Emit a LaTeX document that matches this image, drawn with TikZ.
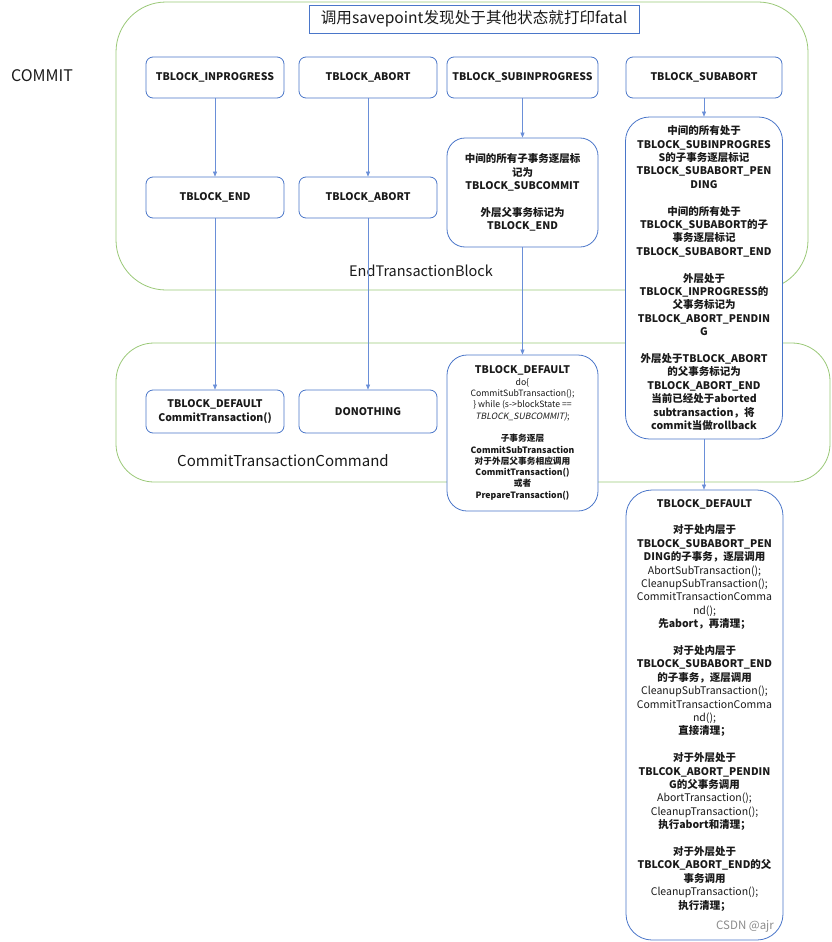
\documentclass[tikz,border=0pt]{standalone}
\usepackage{fontspec}
\setmainfont{Noto Sans CJK SC}
\newfontfamily\itfont{Noto Sans CJK SC}[FakeSlant=0.2]
\usetikzlibrary{arrows.meta}
\definecolor{bblue}{HTML}{4A76C9}
\definecolor{ablue}{HTML}{6A8FD8}
\definecolor{ggreen}{HTML}{9AC877}
\definecolor{txt}{HTML}{1A1A1A}
\tikzset{
  grp/.style={draw=ggreen, line width=0.8pt, inner sep=0pt},
  bx/.style={draw=bblue, line width=0.8pt, fill=white, rounded corners=7pt, align=center, inner sep=0pt, text=txt, font=\bfseries\fontsize{10.5}{13.4}\selectfont},
  big/.style={bx, rounded corners=20pt},
  arr/.style={draw=ablue, line width=0.6pt, -{Triangle[length=5pt,width=4pt]}},
  lbl/.style={text=txt, inner sep=0pt, font=\fontsize{15}{18}\selectfont},
  plain/.style={align=center, inner sep=0pt, text=txt, font=\bfseries\fontsize{10.5}{13.4}\selectfont}
}
\begin{document}
\begin{tikzpicture}[x=1pt,y=-1pt]
\useasboundingbox (0,0) rectangle (832,942);
% containers
\node[grp, minimum width=692pt, minimum height=288pt, rounded corners=50pt] (g1) at (462,146) {};
\node[grp, minimum width=714pt, minimum height=139pt, rounded corners=38pt] (g2) at (473,412.5) {};
% title and labels
\node[draw=bblue, line width=0.9pt, fill=white, minimum width=330pt, minimum height=28pt, inner sep=0pt, text=txt, font=\fontsize{15.6}{18}\selectfont] (title) at (474,19) {调用savepoint发现处于其他状态就打印fatal};
\node[lbl, font=\fontsize{16}{18}\selectfont] (commit) at (42,76) {COMMIT};
\node[lbl, font=\fontsize{14.5}{17}\selectfont] (etb) at (421,271) {EndTransactionBlock};
\node[lbl] (ctc) at (283,461) {CommitTransactionCommand};
% row 1
\node[bx, minimum width=138pt, minimum height=41pt] (a1) at (215,77.5) {TBLOCK\_INPROGRESS};
\node[bx, minimum width=138pt, minimum height=41pt] (a2) at (368,77.5) {TBLOCK\_ABORT};
\node[bx, minimum width=151pt, minimum height=41pt] (a3) at (522.5,77.5) {TBLOCK\_SUBINPROGRESS};
\node[bx, minimum width=156pt, minimum height=41pt] (a4) at (704,77.5) {TBLOCK\_SUBABORT};
% row 2
\node[bx, minimum width=138pt, minimum height=41pt] (b1) at (215,197.5) {TBLOCK\_END};
\node[bx, minimum width=138pt, minimum height=41pt] (b2) at (368,197.5) {TBLOCK\_ABORT};
\node[big, rounded corners=18pt, minimum width=151pt, minimum height=109pt] (b3) at (522.5,192.5) {中间的所有子事务逐层标\\记为\\TBLOCK\_SUBCOMMIT\\[13.4pt]外层父事务标记为\\TBLOCK\_END};
\node[big, rounded corners=24pt, minimum width=157pt, minimum height=322pt] (b4) at (704,278) {中间的所有处于\\TBLOCK\_SUBINPROGRES\\S的子事务逐层标记\\TBLOCK\_SUBABORT\_PEN\\DING\\[13.4pt]中间的所有处于\\TBLOCK\_SUBABORT的子\\事务逐层标记\\TBLOCK\_SUBABORT\_END\\[13.4pt]外层处于\\TBLOCK\_INPROGRESS的\\父事务标记为\\TBLOCK\_ABORT\_PENDIN\\G\\[13.4pt]外层处于TBLOCK\_ABORT\\的父事务标记为\\TBLOCK\_ABORT\_END\\当前已经处于aborted\\subtransaction，将\\commit当做rollback};
% row 3
\node[bx, minimum width=138pt, minimum height=43pt, font=\bfseries\fontsize{10.5}{14}\selectfont] (c1) at (215,411.5) {TBLOCK\_DEFAULT\\CommitTransaction()};
\node[bx, minimum width=138pt, minimum height=43pt] (c2) at (368,411.5) {DONOTHING};
\node[big, rounded corners=20pt, minimum width=151pt, minimum height=156pt, font=\bfseries\fontsize{8.7}{11.3}\selectfont] (c3) at (522.5,433) {{\fontsize{10.5}{12}\selectfont TBLOCK\_DEFAULT}\\{\mdseries do\{}\\{\mdseries CommitSubTransaction();}\\{\mdseries \} while (s->blockState ==}\\{\itfont\mdseries TBLOCK\_SUBCOMMIT)}{\mdseries ;}\\[11.3pt]子事务逐层\\CommitSubTransaction\\对于外层父事务相应调用\\CommitTransaction()\\或者\\PrepareTransaction()};
\node[big, rounded corners=26pt, minimum width=157pt, minimum height=450pt] (c4) at (704.5,715) {};
\node[plain] (c4t) at (704.5,705) {TBLOCK\_DEFAULT\\[13.4pt]对于处内层于\\TBLOCK\_SUBABORT\_PEN\\DING的子事务，逐层调用\\{\mdseries AbortSubTransaction();}\\{\mdseries CleanupSubTransaction();}\\{\mdseries CommitTransactionComma}\\{\mdseries nd();}\\先abort，再清理；\\[13.4pt]对于处内层于\\TBLOCK\_SUBABORT\_END\\的子事务，逐层调用\\{\mdseries CleanupSubTransaction();}\\{\mdseries CommitTransactionComma}\\{\mdseries nd();}\\直接清理；\\[13.4pt]对于外层处于\\TBLCOK\_ABORT\_PENDIN\\G的父事务调用\\{\mdseries AbortTransaction();}\\{\mdseries CleanupTransaction();}\\执行abort和清理；\\[13.4pt]对于外层处于\\TBLCOK\_ABORT\_END的父\\事务调用\\{\mdseries CleanupTransaction();}\\执行清理；};
% arrows
\draw[arr] (a1.south) -- (b1.north);
\draw[arr] (b1.south) -- (c1.north);
\draw[arr] (a2.south) -- (b2.north);
\draw[arr] (b2.south) -- (c2.north);
\draw[arr] (a3.south) -- (b3.north);
\draw[arr] (b3.south) -- (c3.north);
\draw[arr] (a4.south) -- (b4.north);
\draw[arr] (b4.south) -- (b4.south |- c4.north);
% watermark
\node[anchor=west, inner sep=0pt, text=black!45, font=\fontsize{11.5}{13}\selectfont] (wm) at (716,926) {CSDN @ajr};
\end{tikzpicture}
\end{document}
